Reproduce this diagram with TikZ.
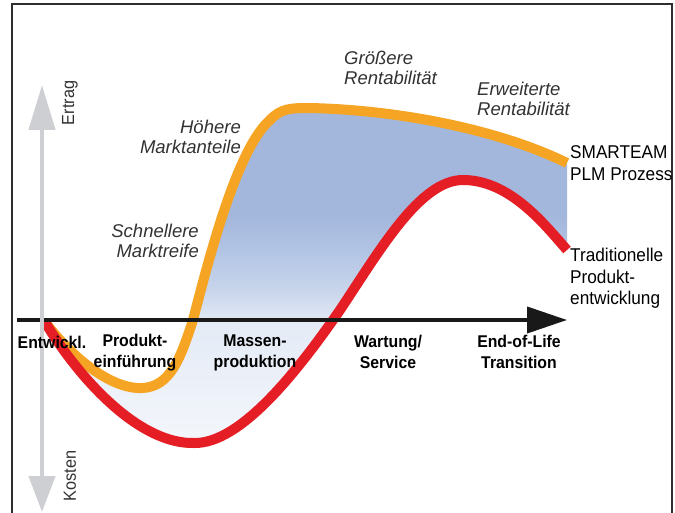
\documentclass[tikz,border=0pt]{standalone}
\usepackage{fontspec}
\setmainfont{Liberation Sans}
\newfontfamily\narrowfont[FakeStretch=0.93]{Liberation Sans}
\usepackage{tikz}
\usetikzlibrary{arrows.meta, positioning}
\definecolor{plmorange}{RGB}{245,165,35}
\definecolor{tradred}{RGB}{228,30,36}
\definecolor{axisgray}{RGB}{205,207,211}
\definecolor{framegray}{RGB}{45,45,45}
\definecolor{notegray}{RGB}{50,50,50}
\definecolor{gainfill}{RGB}{163,183,220}
\definecolor{gainmid}{RGB}{178,196,228}
\definecolor{gainlight}{RGB}{200,213,235}
\definecolor{gainpale}{RGB}{228,235,246}
\definecolor{lossfill}{RGB}{244,246,251}
\pgfdeclareverticalshading{gainshade}{100bp}{color(0bp)=(lossfill); color(25bp)=(lossfill);
    color(43bp)=(gainpale); color(48bp)=(gainlight); color(54bp)=(gainmid); color(59bp)=(gainfill);
    color(100bp)=(gainfill)}
\tikzset{
    phase/.style={
        align=center,
        inner sep=0pt,
        font=\narrowfont\fontsize{17}{21}\selectfont\bfseries
    },
    gainnote/.style={
        inner sep=0pt,
        text=notegray,
        font=\fontsize{18.5}{20.5}\selectfont\itshape
    },
    curvelabel/.style={
        align=left,
        inner sep=0pt,
        font=\narrowfont\fontsize{18.5}{21.5}\selectfont
    },
    axislabel/.style={
        inner sep=0pt,
        rotate=90,
        text=notegray,
        font=\narrowfont\fontsize{17.5}{20}\selectfont
    },
    timeaxis/.style={
        draw=black!90,
        line width=4pt,
        -{Triangle[length=40pt,width=26pt]}
    },
    valueaxis/.style={
        draw=axisgray,
        line width=4.5pt,
        {Triangle[length=36pt,width=26pt]}-{Triangle[length=45pt,width=26pt]}
    },
    plmcurve/.style={
        draw=plmorange,
        line width=10pt
    },
    tradcurve/.style={
        draw=tradred,
        line width=10pt
    }
}
\begin{document}
\begin{tikzpicture}[x=1pt, y=-1pt, node distance=3pt]
\useasboundingbox (0,0) rectangle (675,513);

% Frame
\draw[framegray, line width=2pt] (12,514) -- (12,4) -- (672,4) -- (672,514);

% Curve points
\coordinate (start) at (45,322);
\coordinate (plmlow) at (143,388);
\coordinate (plmcross) at (193,320);
\coordinate (plmrise) at (270,120);
\coordinate (plmtop) at (310,108);
\coordinate (plmend) at (567,163);
\coordinate (tradlow) at (195,443);
\coordinate (tradcross) at (340,310);
\coordinate (tradtop) at (463,180);
\coordinate (tradend) at (567,250);

% Gain area between the curves
\shade[shading=gainshade] (start)
    .. controls (70,355) and (110,390) .. (plmlow)
    .. controls (170,386) and (180,360) .. (plmcross)
    .. controls (211,250) and (238,148) .. (plmrise)
    .. controls (281,108) and (292,108) .. (plmtop)
    .. controls (400,110) and (500,130) .. (plmend)
    -- (tradend)
    .. controls (545,225) and (510,180) .. (tradtop)
    .. controls (420,180) and (380,250) .. (tradcross)
    .. controls (295,375) and (240,443) .. (tradlow)
    .. controls (140,445) and (80,380) .. (start) -- cycle;

% Curves
\draw[plmcurve] (start)
    .. controls (70,355) and (110,390) .. (plmlow)
    .. controls (170,386) and (180,360) .. (plmcross)
    .. controls (211,250) and (238,148) .. (plmrise)
    .. controls (281,108) and (292,108) .. (plmtop)
    .. controls (400,110) and (500,130) .. (plmend);
\draw[tradcurve] (start)
    .. controls (80,380) and (140,445) .. (tradlow)
    .. controls (240,443) and (295,375) .. (tradcross)
    .. controls (380,250) and (420,180) .. (tradtop)
    .. controls (510,180) and (545,225) .. (tradend);

% Axes
\coordinate (timestart) at (17,320);
\coordinate (timeend) at (567,320);
\coordinate (costtip) at (42,512);
\coordinate (yieldtip) at (42,85);
\draw[timeaxis] (timestart) -- (timeend);
\draw[valueaxis] (costtip) -- (yieldtip);
\node[axislabel] (yield) at (70,103) {Ertrag};
\node[axislabel] (cost) at (70,476) {Kosten};

% Phases
\node[phase] (dev) at (52,342) {Entwickl.};
\node[phase] (launch) at (135,353) {Produkt-\\einführung};
\node[phase] (mass) at (255,353) {Massen-\\produktion};
\node[phase] (service) at (388,352) {Wartung/\\Service};
\node[phase] (eol) at (519,352) {End-of-Life\\Transition};

% Annotations
\node[gainnote, align=right, anchor=east] (maturity) at (199,241) {Schnellere\\Marktreife};
\node[gainnote, align=right, anchor=east] (share) at (241,137) {Höhere\\Marktanteile};
\node[gainnote, align=left, anchor=west] (profit) at (344,68) {Größere\\Rentabilität};
\node[gainnote, align=left, anchor=west] (extprofit) at (477,99) {Erweiterte\\Rentabilität};

% Curve labels
\node[curvelabel, right=of plmend] (plmlabel) {SMARTEAM\\PLM Prozess};
\node[curvelabel, anchor=north west] (tradlabel) at (570,248) {Traditionelle\\Produkt-\\entwicklung};

\end{tikzpicture}
\end{document}
